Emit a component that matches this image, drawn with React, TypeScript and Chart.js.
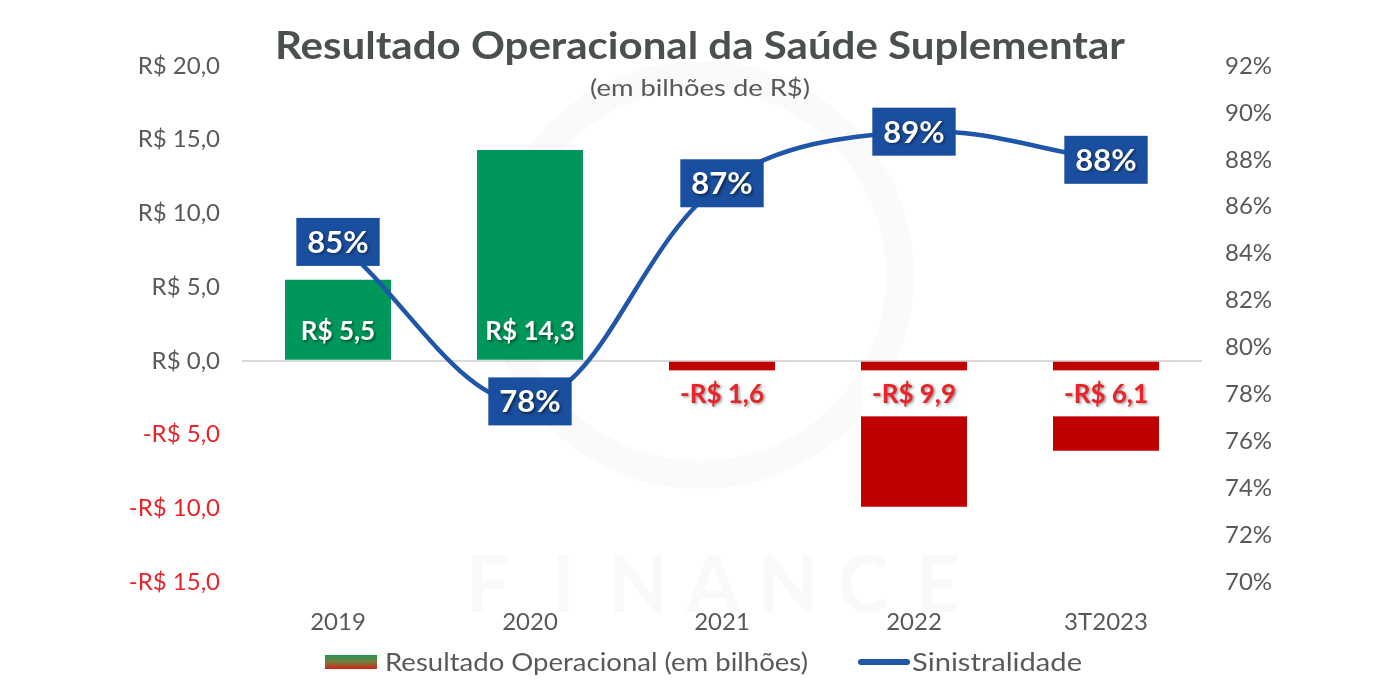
import { useEffect, useRef } from 'react';
import { Chart, registerables } from 'chart.js';

Chart.register(...registerables);

const categories = ['2019', '2020', '2021', '2022', '3T2023'];
const resultado = [5.5, 14.3, -1.6, -9.9, -6.1];
const sinistralidade = [84.5, 77.7, 87.0, 89.2, 88.0];
const leftAxis = { min: -15, max: 20, step: 5 };
const rightAxis = { min: 70, max: 92, step: 2 };

const GREEN = '#00975a';
const RED = '#c00000';
const BLUE_LINE = '#1f56a8';
const BLUE_BOX = '#1a4f9f';
const GRAY = '#595959';
const LABEL_RED = '#e8232a';

const fmtMoney = (v: number) =>
  (v < 0 ? '-' : '') + 'R$ ' + Math.abs(v).toFixed(1).replace('.', ',');

function fillTextFit(ctx: CanvasRenderingContext2D, text: string, x: number, y: number, target: number) {
  const w = ctx.measureText(text).width;
  const sx = target / w;
  ctx.save();
  ctx.translate(x, y);
  ctx.scale(sx, 1);
  ctx.textAlign = 'center';
  ctx.fillText(text, 0, 0);
  ctx.restore();
}

const decorPlugin = {
  id: 'decor',
  beforeDraw(chart: any) {
    const ctx: CanvasRenderingContext2D = chart.ctx;
    ctx.save();
    ctx.fillStyle = '#ffffff';
    ctx.fillRect(0, 0, chart.width, chart.height);
    // faint watermark
    ctx.strokeStyle = 'rgba(0,0,0,0.018)';
    ctx.lineWidth = 28;
    ctx.beginPath();
    ctx.arc(700, 275, 200, 0, Math.PI * 2);
    ctx.stroke();
    ctx.fillStyle = 'rgba(0,0,0,0.022)';
    ctx.font = 'bold 78px Lato';
    ctx.textAlign = 'center';
    ctx.textBaseline = 'alphabetic';
    const letters = 'FINANCE'.split('');
    letters.forEach((l, i) => ctx.fillText(l, 488 + i * 75, 612));
    ctx.restore();
  },
  afterDraw(chart: any) {
    const ctx: CanvasRenderingContext2D = chart.ctx;
    ctx.save();
    ctx.fillStyle = '#4a5050';
    ctx.font = 'bold 38px Lato';
    ctx.textBaseline = 'alphabetic';
    fillTextFit(ctx, 'Resultado Operacional da Saúde Suplementar', 700, 59, 850);
    ctx.fillStyle = GRAY;
    ctx.font = '24px Lato';
    fillTextFit(ctx, '(em bilhões de R$)', 700, 96, 220);

    const ly = 662;
    const grad = ctx.createLinearGradient(0, ly - 7, 0, ly + 7);
    grad.addColorStop(0, '#1e9a55');
    grad.addColorStop(0.5, '#7a7a3a');
    grad.addColorStop(1, '#d0201a');
    ctx.fillStyle = grad;
    ctx.fillRect(325, ly - 7, 52, 14);
    ctx.fillStyle = GRAY;
    ctx.font = '25px Lato';
    ctx.textBaseline = 'middle';
    fillTextFit(ctx, 'Resultado Operacional (em bilhões)', 385 + 423 / 2, ly + 1, 423);
    ctx.strokeStyle = BLUE_LINE;
    ctx.lineWidth = 6;
    ctx.lineCap = 'round';
    ctx.beginPath();
    ctx.moveTo(861, ly);
    ctx.lineTo(907, ly);
    ctx.stroke();
    fillTextFit(ctx, 'Sinistralidade', 912 + 170 / 2, ly + 1, 170);
    ctx.restore();
  },
};

const labelsPlugin = {
  id: 'valueLabels',
  afterDatasetsDraw(chart: any) {
    const ctx: CanvasRenderingContext2D = chart.ctx;
    ctx.save();
    ctx.textAlign = 'center';
    ctx.textBaseline = 'middle';
    const barMeta = chart.getDatasetMeta(0);
    barMeta.data.forEach((bar: any, i: number) => {
      const v = resultado[i];
      const { x, base, width } = bar.getProps(['x', 'base', 'width'], true);
      const text = fmtMoney(v);
      ctx.font = 'bold 26px Lato';
      const tw = ctx.measureText(text).width;
      const bw = Math.max(width, tw + 16);
      const bh = 46;
      const cy = v >= 0 ? base - 29 : base + 31.5;
      ctx.shadowColor = 'transparent';
      ctx.fillStyle = v >= 0 ? GREEN : '#ffffff';
      ctx.fillRect(x - bw / 2, cy - bh / 2, bw, bh);
      ctx.shadowColor = 'rgba(0,0,0,0.45)';
      ctx.shadowBlur = 3;
      ctx.shadowOffsetX = 1.5;
      ctx.shadowOffsetY = 1.5;
      ctx.fillStyle = v >= 0 ? '#ffffff' : LABEL_RED;
      ctx.fillText(text, x, cy + 1);
    });
    const lineMeta = chart.getDatasetMeta(1);
    lineMeta.data.forEach((pt: any, i: number) => {
      const text = Math.round(sinistralidade[i]) + '%';
      ctx.font = 'bold 31px Lato';
      const tw = ctx.measureText(text).width;
      const bw = tw + 22;
      const bh = 48;
      ctx.shadowColor = 'transparent';
      ctx.fillStyle = BLUE_BOX;
      ctx.fillRect(pt.x - bw / 2, pt.y - bh / 2, bw, bh);
      ctx.shadowColor = 'rgba(0,0,0,0.5)';
      ctx.shadowBlur = 3;
      ctx.shadowOffsetX = 1.5;
      ctx.shadowOffsetY = 1.5;
      ctx.fillStyle = '#ffffff';
      ctx.fillText(text, pt.x, pt.y + 1);
    });
    ctx.restore();
  },
};

export default function App() {
  const ref = useRef<HTMLCanvasElement>(null);
  useEffect(() => {
    const tickFont = { family: 'Lato', size: 24 };
    const chart = new Chart(ref.current as HTMLCanvasElement, {
      type: 'bar',
      data: {
        labels: categories,
        datasets: [
          {
            type: 'bar',
            label: 'Resultado Operacional (em bilhões)',
            data: resultado,
            backgroundColor: resultado.map((v) => (v >= 0 ? GREEN : RED)),
            barPercentage: 0.552,
            categoryPercentage: 1,
            yAxisID: 'y',
            order: 2,
          },
          {
            type: 'line',
            label: 'Sinistralidade',
            data: sinistralidade,
            borderColor: BLUE_LINE,
            borderWidth: 4.5,
            tension: 0.36,
            pointRadius: 0,
            fill: false,
            yAxisID: 'y1',
            order: 1,
          },
        ],
      } as any,
      options: {
        animation: false,
        responsive: true,
        maintainAspectRatio: false,
        layout: { padding: { top: 66, left: 0, right: 0, bottom: 0 } },
        plugins: {
          legend: { display: false },
          title: { display: false },
          tooltip: { enabled: false },
        },
        scales: {
          x: {
            grid: { display: false, drawTicks: false },
            border: { display: false },
            ticks: { color: GRAY, font: tickFont, padding: 26 },
            afterFit: (s: any) => {
              s.height = 118;
            },
          },
          y: {
            position: 'left',
            min: leftAxis.min,
            max: leftAxis.max,
            ticks: {
              stepSize: leftAxis.step,
              callback: (v: any) => fmtMoney(Number(v)),
              color: (c: any) => (c.tick && c.tick.value < 0 ? LABEL_RED : GRAY),
              font: tickFont,
              padding: 22,
            },
            grid: {
              drawTicks: false,
              lineWidth: 2,
              color: (c: any) => (c.tick && c.tick.value === 0 ? '#d9d9d9' : 'rgba(0,0,0,0)'),
            },
            border: { display: false },
            afterFit: (s: any) => {
              s.width = 242;
            },
          },
          y1: {
            position: 'right',
            min: rightAxis.min,
            max: rightAxis.max,
            ticks: {
              stepSize: rightAxis.step,
              callback: (v: any) => v + '%',
              color: GRAY,
              font: tickFont,
              padding: 23,
            },
            grid: { display: false, drawTicks: false },
            border: { display: false },
            afterFit: (s: any) => {
              s.width = 198;
            },
          },
        },
      } as any,
      plugins: [decorPlugin, labelsPlugin],
    });
    return () => chart.destroy();
  }, []);
  return (
    <div style={{ position: 'fixed', left: 0, top: 0, width: 1400, height: 700, background: '#fff' }}>
      <canvas ref={ref} />
    </div>
  );
}
